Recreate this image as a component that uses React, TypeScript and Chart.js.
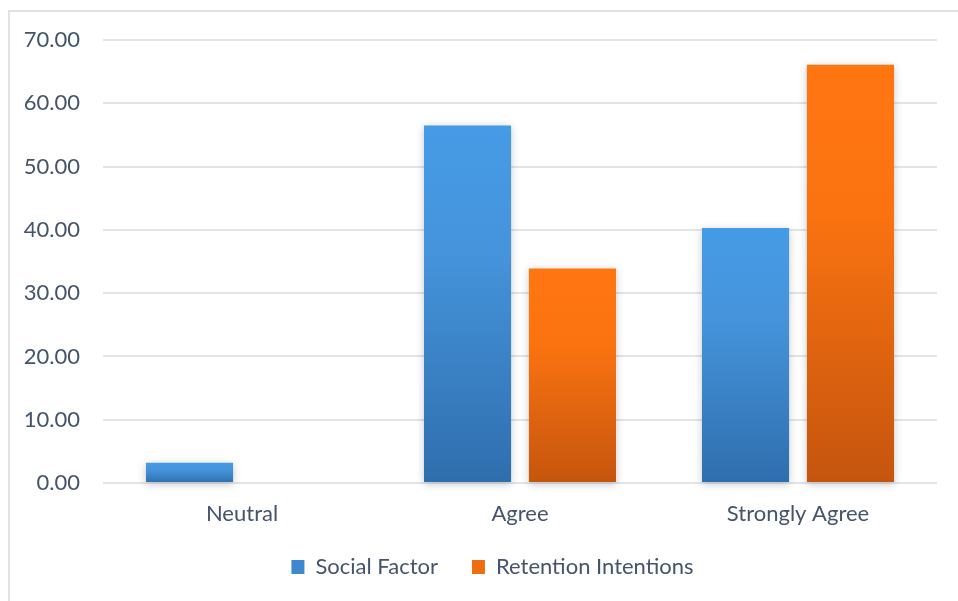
import { useEffect, useRef } from "react";
import { Chart, registerables } from "chart.js";

Chart.register(...registerables);

// Survey response categories along the x axis
const categories = ["Neutral", "Agree", "Strongly Agree"];

// Percentage of respondents per category
const socialFactor = [3.2, 56.5, 40.3];
const retentionIntentions = [0, 33.9, 66.1];

// Value axis range
const yMin = 0;
const yMax = 70;
const yStep = 10;

const FONT_FAMILY = "Lato, 'Open Sans', sans-serif";
const FONT_SIZE = 22;
const TEXT_COLOR = "#44546a";
const GRID_COLOR = "#e1e5ea";

type Stop = [number, string];

const BLUE_STOPS: Stop[] = [
  [0, "#469be6"],
  [0.35, "#4594dc"],
  [1, "#2f6ead"],
];
const ORANGE_STOPS: Stop[] = [
  [0, "#ff7611"],
  [0.35, "#fb7311"],
  [1, "#c5550e"],
];

// Vertical gradient spanning each bar from its top down to the zero line
function barGradient(ctx: any, stops: Stop[]) {
  const chart = ctx.chart;
  const yScale = chart.scales?.y;
  const value = ctx.raw as number;
  if (!yScale || typeof value !== "number") return stops[0][1];
  const top = yScale.getPixelForValue(value);
  const bottom = yScale.getPixelForValue(0);
  if (!isFinite(top) || !isFinite(bottom) || Math.abs(bottom - top) < 1) {
    return stops[0][1];
  }
  const g = chart.ctx.createLinearGradient(0, top, 0, bottom);
  stops.forEach(([o, c]) => g.addColorStop(o, c));
  return g;
}

// Soft drop shadow behind the bars
const barShadow = {
  id: "barShadow",
  beforeDatasetsDraw(chart: any) {
    const c = chart.ctx;
    c.save();
    c.shadowColor = "rgba(0, 0, 0, 0.22)";
    c.shadowBlur = 8;
    c.shadowOffsetX = 0;
    c.shadowOffsetY = 2;
  },
  afterDatasetsDraw(chart: any) {
    chart.ctx.restore();
  },
};

// Nudges the legend box closer to the axis labels and slightly to the right
const LEGEND_SHIFT_X = 24;
const LEGEND_SHIFT_Y = -21;
const legendNudge = {
  id: "legendNudge",
  afterLayout(chart: any) {
    const lg = chart.legend;
    if (!lg) return;
    lg.left += LEGEND_SHIFT_X;
    lg.right += LEGEND_SHIFT_X;
    lg.top += LEGEND_SHIFT_Y;
    lg.bottom += LEGEND_SHIFT_Y;
  },
};

export default function App() {
  const canvasRef = useRef<HTMLCanvasElement | null>(null);

  useEffect(() => {
    const canvas = canvasRef.current;
    if (!canvas) return;

    const chart = new Chart(canvas, {
      type: "bar",
      data: {
        labels: categories,
        datasets: [
          {
            label: "Social Factor",
            data: socialFactor,
            backgroundColor: (ctx: any) => barGradient(ctx, BLUE_STOPS),
            borderWidth: 0,
            categoryPercentage: 0.755,
            barPercentage: 0.83,
            clip: false as any,
          },
          {
            label: "Retention Intentions",
            data: retentionIntentions,
            backgroundColor: (ctx: any) => barGradient(ctx, ORANGE_STOPS),
            borderWidth: 0,
            categoryPercentage: 0.755,
            barPercentage: 0.83,
            clip: false as any,
          },
        ],
      },
      options: {
        responsive: false,
        animation: false,
        devicePixelRatio: 1,
        layout: {
          padding: { left: 0, right: 21, top: 40, bottom: -8 },
        },
        plugins: {
          legend: {
            position: "bottom",
            labels: {
              boxWidth: 13,
              boxHeight: 14,
              padding: 34,
              color: TEXT_COLOR,
              font: { family: FONT_FAMILY, size: FONT_SIZE },
              generateLabels: (ch: any) =>
                ch.data.datasets.map((ds: any, i: number) => ({
                  text: ds.label,
                  fillStyle: i === 0 ? "#3f88cf" : "#ee6c12",
                  strokeStyle: "transparent",
                  lineWidth: 0,
                  hidden: !ch.isDatasetVisible(i),
                  datasetIndex: i,
                  fontColor: TEXT_COLOR,
                })),
            },
          },
          tooltip: { enabled: false },
        },
        scales: {
          x: {
            grid: { display: false, drawTicks: false },
            border: { display: false },
            ticks: {
              color: TEXT_COLOR,
              font: { family: FONT_FAMILY, size: FONT_SIZE },
              padding: 18,
              maxRotation: 0,
            },
            afterFit: (scale: any) => {
              scale.height = 60;
            },
          },
          y: {
            min: yMin,
            max: yMax,
            grid: {
              color: GRID_COLOR,
              lineWidth: 2,
              drawTicks: false,
            },
            border: { display: false },
            ticks: {
              stepSize: yStep,
              color: TEXT_COLOR,
              font: { family: FONT_FAMILY, size: FONT_SIZE },
              padding: 23,
              callback: (v: any) => Number(v).toFixed(2),
            },
            afterFit: (scale: any) => {
              scale.width = 103;
            },
          },
        },
      },
      plugins: [barShadow, legendNudge],
    });

    return () => chart.destroy();
  }, []);

  return (
    <div
      style={{
        position: "absolute",
        left: 0,
        top: 0,
        width: 958,
        height: 601,
        overflow: "hidden",
        background: "#ffffff",
      }}
    >
      <div
        style={{
          position: "absolute",
          left: 8,
          top: 10,
          width: 980,
          height: 620,
          border: "2px solid #dfe3e9",
          boxSizing: "border-box",
        }}
      />
      <canvas
        ref={canvasRef}
        width={958}
        height={601}
        style={{ position: "absolute", left: 0, top: 0, width: 958, height: 601 }}
      />
    </div>
  );
}
